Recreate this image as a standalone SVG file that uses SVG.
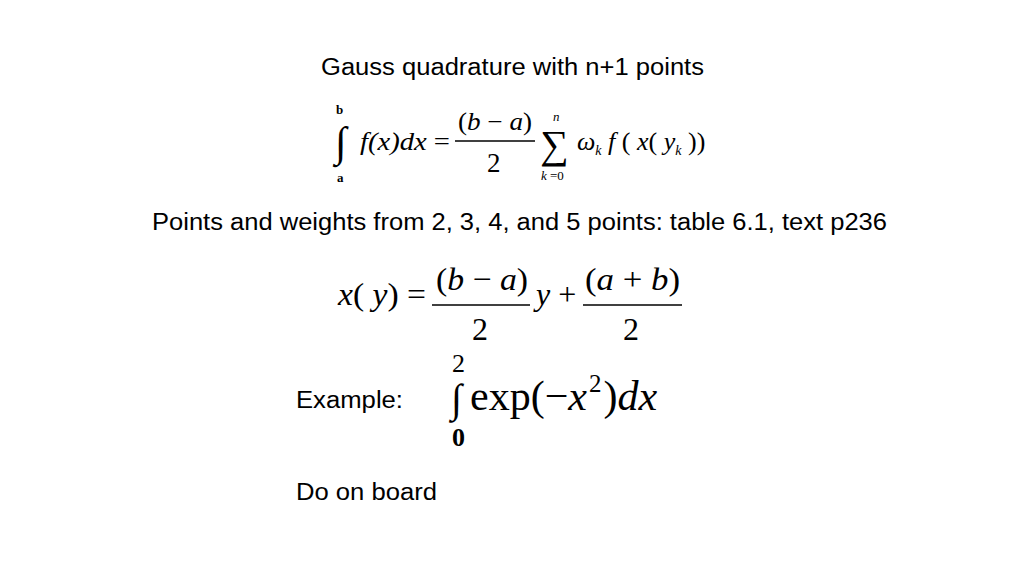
<svg xmlns="http://www.w3.org/2000/svg" width="1024" height="576" viewBox="0 0 1024 576">
<style>
.s{font-family:"Liberation Sans",Arial,sans-serif;font-size:23px;fill:#000}
.m{font-family:"Liberation Serif","Times New Roman",serif;fill:#000}
.i{font-style:italic}
.b{font-weight:bold}
</style>
<rect width="1024" height="576" fill="#fff"/>
<text class="s" x="321" y="75" textLength="383" lengthAdjust="spacingAndGlyphs">Gauss quadrature with n+1 points</text>
<g id="eq1">
<text class="m" x="335" y="156" font-size="42">∫</text>
<text class="m b" x="336" y="114" font-size="13">b</text>
<text class="m b" x="337" y="182" font-size="13">a</text>
<text class="m" x="360" y="150" font-size="25" textLength="90" lengthAdjust="spacingAndGlyphs"><tspan class="i">f(x)dx</tspan> =</text>
<text class="m" x="458" y="130" font-size="25" textLength="74" lengthAdjust="spacingAndGlyphs">(<tspan class="i">b</tspan> − <tspan class="i">a</tspan>)</text>
<line x1="455" y1="141" x2="535" y2="141" stroke="#000" stroke-width="1.3"/>
<text class="m" x="487" y="172" font-size="27">2</text>
<text class="m" x="540" y="158" font-size="40">∑</text>
<text class="m i" x="553" y="121" font-size="13">n</text>
<text class="m" x="541" y="180" font-size="13"><tspan class="i">k</tspan> =0</text>
<text class="m" x="577" y="150" font-size="26"><tspan class="i">ω</tspan><tspan class="i" font-size="14" dy="5">k</tspan><tspan class="i" dy="-5"> f</tspan> ( <tspan class="i">x</tspan>( <tspan class="i">y</tspan><tspan class="i" font-size="14" dy="5">k</tspan><tspan dy="-5"> ))</tspan></text>
</g>
<text class="s" x="152" y="230" textLength="735" lengthAdjust="spacingAndGlyphs">Points and weights from 2, 3, 4, and 5 points: table 6.1, text p236</text>
<g id="eq2">
<text class="m" x="338" y="305" font-size="32" textLength="88" lengthAdjust="spacingAndGlyphs"><tspan class="i">x</tspan>( <tspan class="i">y</tspan>) =</text>
<text class="m" x="436" y="290" font-size="32" textLength="92" lengthAdjust="spacingAndGlyphs">(<tspan class="i">b</tspan> − <tspan class="i">a</tspan>)</text>
<line x1="432" y1="305" x2="530" y2="305" stroke="#000" stroke-width="1.3"/>
<text class="m" x="472" y="340" font-size="32">2</text>
<text class="m" x="536" y="305" font-size="32"><tspan class="i">y</tspan> +</text>
<text class="m" x="585" y="290" font-size="32" textLength="95" lengthAdjust="spacingAndGlyphs">(<tspan class="i">a</tspan> + <tspan class="i">b</tspan>)</text>
<line x1="583" y1="305" x2="682" y2="305" stroke="#000" stroke-width="1.3"/>
<text class="m" x="623" y="340" font-size="32">2</text>
</g>
<text class="s" x="296" y="408" textLength="107" lengthAdjust="spacingAndGlyphs">Example:</text>
<g id="eq3">
<text class="m" x="452" y="372" font-size="26">2</text>
<text class="m" x="451" y="412" font-size="40">∫</text>
<text class="m b" x="452" y="446" font-size="26">0</text>
<text class="m" x="470" y="410" font-size="42">exp(−<tspan class="i">x</tspan><tspan font-size="25" dx="2" dy="-18">2</tspan><tspan dx="2" dy="18">)</tspan><tspan class="i">dx</tspan></text>
</g>
<text class="s" x="296" y="500" textLength="141" lengthAdjust="spacingAndGlyphs">Do on board</text>
</svg>
